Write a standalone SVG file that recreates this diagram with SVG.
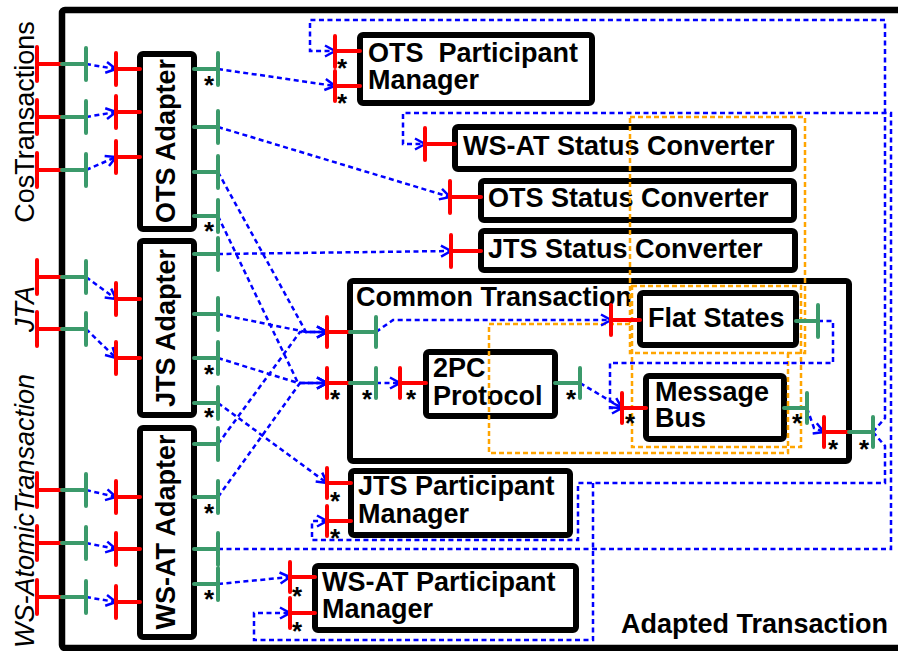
<svg xmlns="http://www.w3.org/2000/svg" width="898" height="651" viewBox="0 0 898 651">
<style>
.box{fill:#fff;stroke:#000;stroke-width:6}
.lbl{font-family:"Liberation Sans",Arial,sans-serif;font-weight:bold;font-size:27px;fill:#000}
.ext{font-family:"Liberation Sans",Arial,sans-serif;font-size:27px;fill:#000;text-anchor:middle}
.r{stroke:#f00;stroke-width:4;stroke-linecap:round;fill:none}
.g{stroke:#3b9a6b;stroke-width:4;stroke-linecap:round;fill:none}
.c{stroke:#00f;stroke-width:2.5;stroke-dasharray:5 3.5;fill:none;marker-end:url(#a)}
.o{stroke:#ffa500;stroke-width:2.5;stroke-dasharray:5 3;fill:none}
.s{font-family:"Liberation Sans",Arial,sans-serif;font-weight:bold;font-size:26px;text-anchor:middle;fill:#000}
</style>
<defs>
<marker id="a" markerUnits="userSpaceOnUse" markerWidth="14" markerHeight="14" refX="11" refY="7" orient="auto" overflow="visible">
<path d="M1,1.5 L11,7 L1,12.5" fill="none" stroke="#00f" stroke-width="2.5"/>
</marker>
</defs>
<rect width="898" height="651" fill="#fff"/>
<g id="adapted-transaction">
<rect x="62" y="10" width="850" height="638" fill="none" stroke="#000" stroke-width="6.5" rx="3"/>
<text class="lbl" x="621" y="633">Adapted Transaction</text>
</g>
<g id="external-labels">
<text class="ext" transform="translate(34,122) rotate(-90)">CosTransactions</text>
<text class="ext" font-style="italic" transform="translate(34,309) rotate(-90)">JTA</text>
<text class="ext" font-style="italic" transform="translate(34,511) rotate(-90)">WS-AtomicTransaction</text>
</g>
<g id="ots-adapter"><rect class="box" x="140" y="54" width="54" height="175" rx="3"/><text class="lbl" text-anchor="middle" transform="translate(175,141) rotate(-90)">OTS Adapter</text></g>
<g id="jts-adapter"><rect class="box" x="140" y="241" width="54" height="174" rx="3"/><text class="lbl" text-anchor="middle" transform="translate(175,328) rotate(-90)">JTS Adapter</text></g>
<g id="wsat-adapter"><rect class="box" x="140" y="428" width="54" height="209" rx="3"/><text class="lbl" text-anchor="middle" transform="translate(175,532) rotate(-90)">WS-AT Adapter</text></g>
<g id="ots-participant-manager"><rect class="box" x="360" y="35" width="232" height="68" rx="3"/><text class="lbl" x="368" y="62" xml:space="preserve">OTS  Participant</text><text class="lbl" x="368" y="89">Manager</text></g>
<g id="wsat-status-converter"><rect class="box" x="455" y="127" width="339" height="42" rx="3"/><text class="lbl" x="463" y="155">WS-AT Status Converter</text></g>
<g id="ots-status-converter"><rect class="box" x="481" y="181" width="313" height="39" rx="3"/><text class="lbl" x="488" y="207">OTS Status Converter</text></g>
<g id="jts-status-converter"><rect class="box" x="481" y="231" width="314" height="39" rx="3"/><text class="lbl" x="488" y="258">JTS Status Converter</text></g>
<g id="common-transaction"><rect class="box" x="350" y="281" width="499" height="180" rx="3"/><text class="lbl" x="356" y="306">Common Transaction</text></g>
<g id="two-pc-protocol"><rect class="box" x="426" y="352" width="129" height="64" rx="3"/><text class="lbl" x="433" y="377">2PC</text><text class="lbl" x="433" y="405">Protocol</text></g>
<g id="flat-states"><rect class="box" x="640" y="293" width="156" height="52" rx="3"/><text class="lbl" x="648" y="327">Flat States</text></g>
<g id="message-bus"><rect class="box" x="646" y="376" width="138" height="63" rx="3"/><text class="lbl" x="655" y="401">Message</text><text class="lbl" x="655" y="427">Bus</text></g>
<g id="jts-participant-manager"><rect class="box" x="351" y="471" width="219" height="64" rx="3"/><text class="lbl" x="358" y="495">JTS Participant</text><text class="lbl" x="358" y="523">Manager</text></g>
<g id="wsat-participant-manager"><rect class="box" x="315" y="566" width="261" height="64" rx="3"/><text class="lbl" x="322" y="591">WS-AT Participant</text><text class="lbl" x="322" y="618">Manager</text></g>
<g id="layers">
<rect class="o" x="630" y="117" width="175" height="236"/>
<rect class="o" x="632" y="286" width="169" height="161"/>
<path class="o" d="M630,324 H489 V453 H788 V353"/>
</g>
<g id="connectors">
<path class="c" d="M86,64 L116,69"/>
<path class="c" d="M86,117 L116,112"/>
<path class="c" d="M86,170 L116,157"/>
<path class="c" d="M86,277 L116,299"/>
<path class="c" d="M86,329 L116,358"/>
<path class="c" d="M86,490 L116,497"/>
<path class="c" d="M86,543 L116,549"/>
<path class="c" d="M86,597 L116,602"/>
<path class="c" d="M218,69 L335,86"/>
<path class="c" d="M218,127 L450,197"/>
<path class="c" d="M218,172 L306,332 L327,332"/>
<path class="c" d="M218,216 L298,383 L327,383"/>
<path class="c" d="M218,254 L451,251"/>
<path class="c" d="M218,314 L306,332 L327,332"/>
<path class="c" d="M218,358 L298,383 L327,383"/>
<path class="c" d="M218,403 L327,483"/>
<path class="c" d="M218,444 L300,332 L327,332"/>
<path class="c" d="M218,497 L300,383 L327,383"/>
<path class="c" d="M218,549 H891 V113 H403 V144 H425"/>
<path class="c" d="M218,584 L290,577"/>
<path class="c" d="M376,332 L393,320 H611"/>
<path class="c" d="M376,383 H400"/>
<path class="c" d="M580,383 L622,408"/>
<path class="c" d="M818,321 H833 V363 H610 V408 H622"/>
<path class="c" d="M807,408 L814,428 L824,432"/>
<path class="c" d="M873,432 L885,418 V20 H310 V51 H335"/>
<path class="c" d="M873,432 L885,446 V483 H578 V540 H312 V521 H327"/>
<path class="c" d="M593,483 V640 H254 V613 H290"/>
</g>
<g id="ports">
<path class="r" d="M37,47 V81 M37,64 H62 M37,100 V134 M37,117 H62 M37,153 V187 M37,170 H62 M37,260 V294 M37,277 H62 M37,312 V346 M37,329 H62 M37,473 V507 M37,490 H62 M37,526 V560 M37,543 H62 M37,580 V614 M37,597 H62"/>
<path class="g" d="M62,64 H86 M86,48 V80 M62,117 H86 M86,101 V133 M62,170 H86 M86,154 V186 M62,277 H86 M86,261 V293 M62,329 H86 M86,313 V345 M62,490 H86 M86,474 V506 M62,543 H86 M86,527 V559 M62,597 H86 M86,581 V613"/>
<path class="r" d="M116,53 V85 M116,69 H140 M116,96 V128 M116,112 H140 M116,141 V173 M116,157 H140 M116,283 V315 M116,299 H140 M116,342 V374 M116,358 H140 M116,481 V513 M116,497 H140 M116,533 V565 M116,549 H140 M116,586 V618 M116,602 H140"/>
<path class="g" d="M194,69 H218 M218,53 V85 M194,127 H218 M218,111 V143 M194,172 H218 M218,156 V188 M194,216 H218 M218,200 V232 M194,254 H218 M218,238 V270 M194,314 H218 M218,298 V330 M194,358 H218 M218,342 V374 M194,403 H218 M218,387 V419 M194,444 H218 M218,428 V460 M194,497 H218 M218,481 V513 M194,549 H218 M218,533 V565 M194,584 H218 M218,568 V600"/>
<path class="r" d="M335,36 V67 M335,51 H360 M335,71 V101 M335,86 H360 M425,128 V160 M425,144 H455 M450,181 V213 M450,197 H481 M451,235 V267 M451,251 H481 M327,317 V347 M327,332 H350 M327,368 V398 M327,383 H350 M400,368 V398 M400,383 H426 M611,305 V335 M611,320 H640 M622,393 V423 M622,408 H646 M824,417 V447 M824,432 H849 M327,468 V498 M327,483 H351 M327,506 V536 M327,521 H351 M290,562 V592 M290,577 H315 M290,598 V628 M290,613 H315"/>
<path class="g" d="M350,332 H376 M376,317 V347 M350,383 H376 M376,368 V398 M555,383 H580 M580,368 V398 M796,321 H818 M818,305 V337 M784,408 H807 M807,393 V423 M849,432 H873 M873,417 V447"/>
</g>
<g id="multiplicity">
<text class="s" x="209" y="94">*</text>
<text class="s" x="209" y="240">*</text>
<text class="s" x="209" y="383">*</text>
<text class="s" x="209" y="426">*</text>
<text class="s" x="209" y="522">*</text>
<text class="s" x="209" y="608">*</text>
<text class="s" x="342" y="77">*</text>
<text class="s" x="342" y="112">*</text>
<text class="s" x="335" y="408">*</text>
<text class="s" x="367" y="408">*</text>
<text class="s" x="411" y="408">*</text>
<text class="s" x="571" y="408">*</text>
<text class="s" x="630" y="432">*</text>
<text class="s" x="797" y="432">*</text>
<text class="s" x="833" y="458">*</text>
<text class="s" x="864" y="458">*</text>
<text class="s" x="335" y="510">*</text>
<text class="s" x="335" y="547">*</text>
<text class="s" x="297" y="605">*</text>
<text class="s" x="297" y="640">*</text>
</g>
</svg>
